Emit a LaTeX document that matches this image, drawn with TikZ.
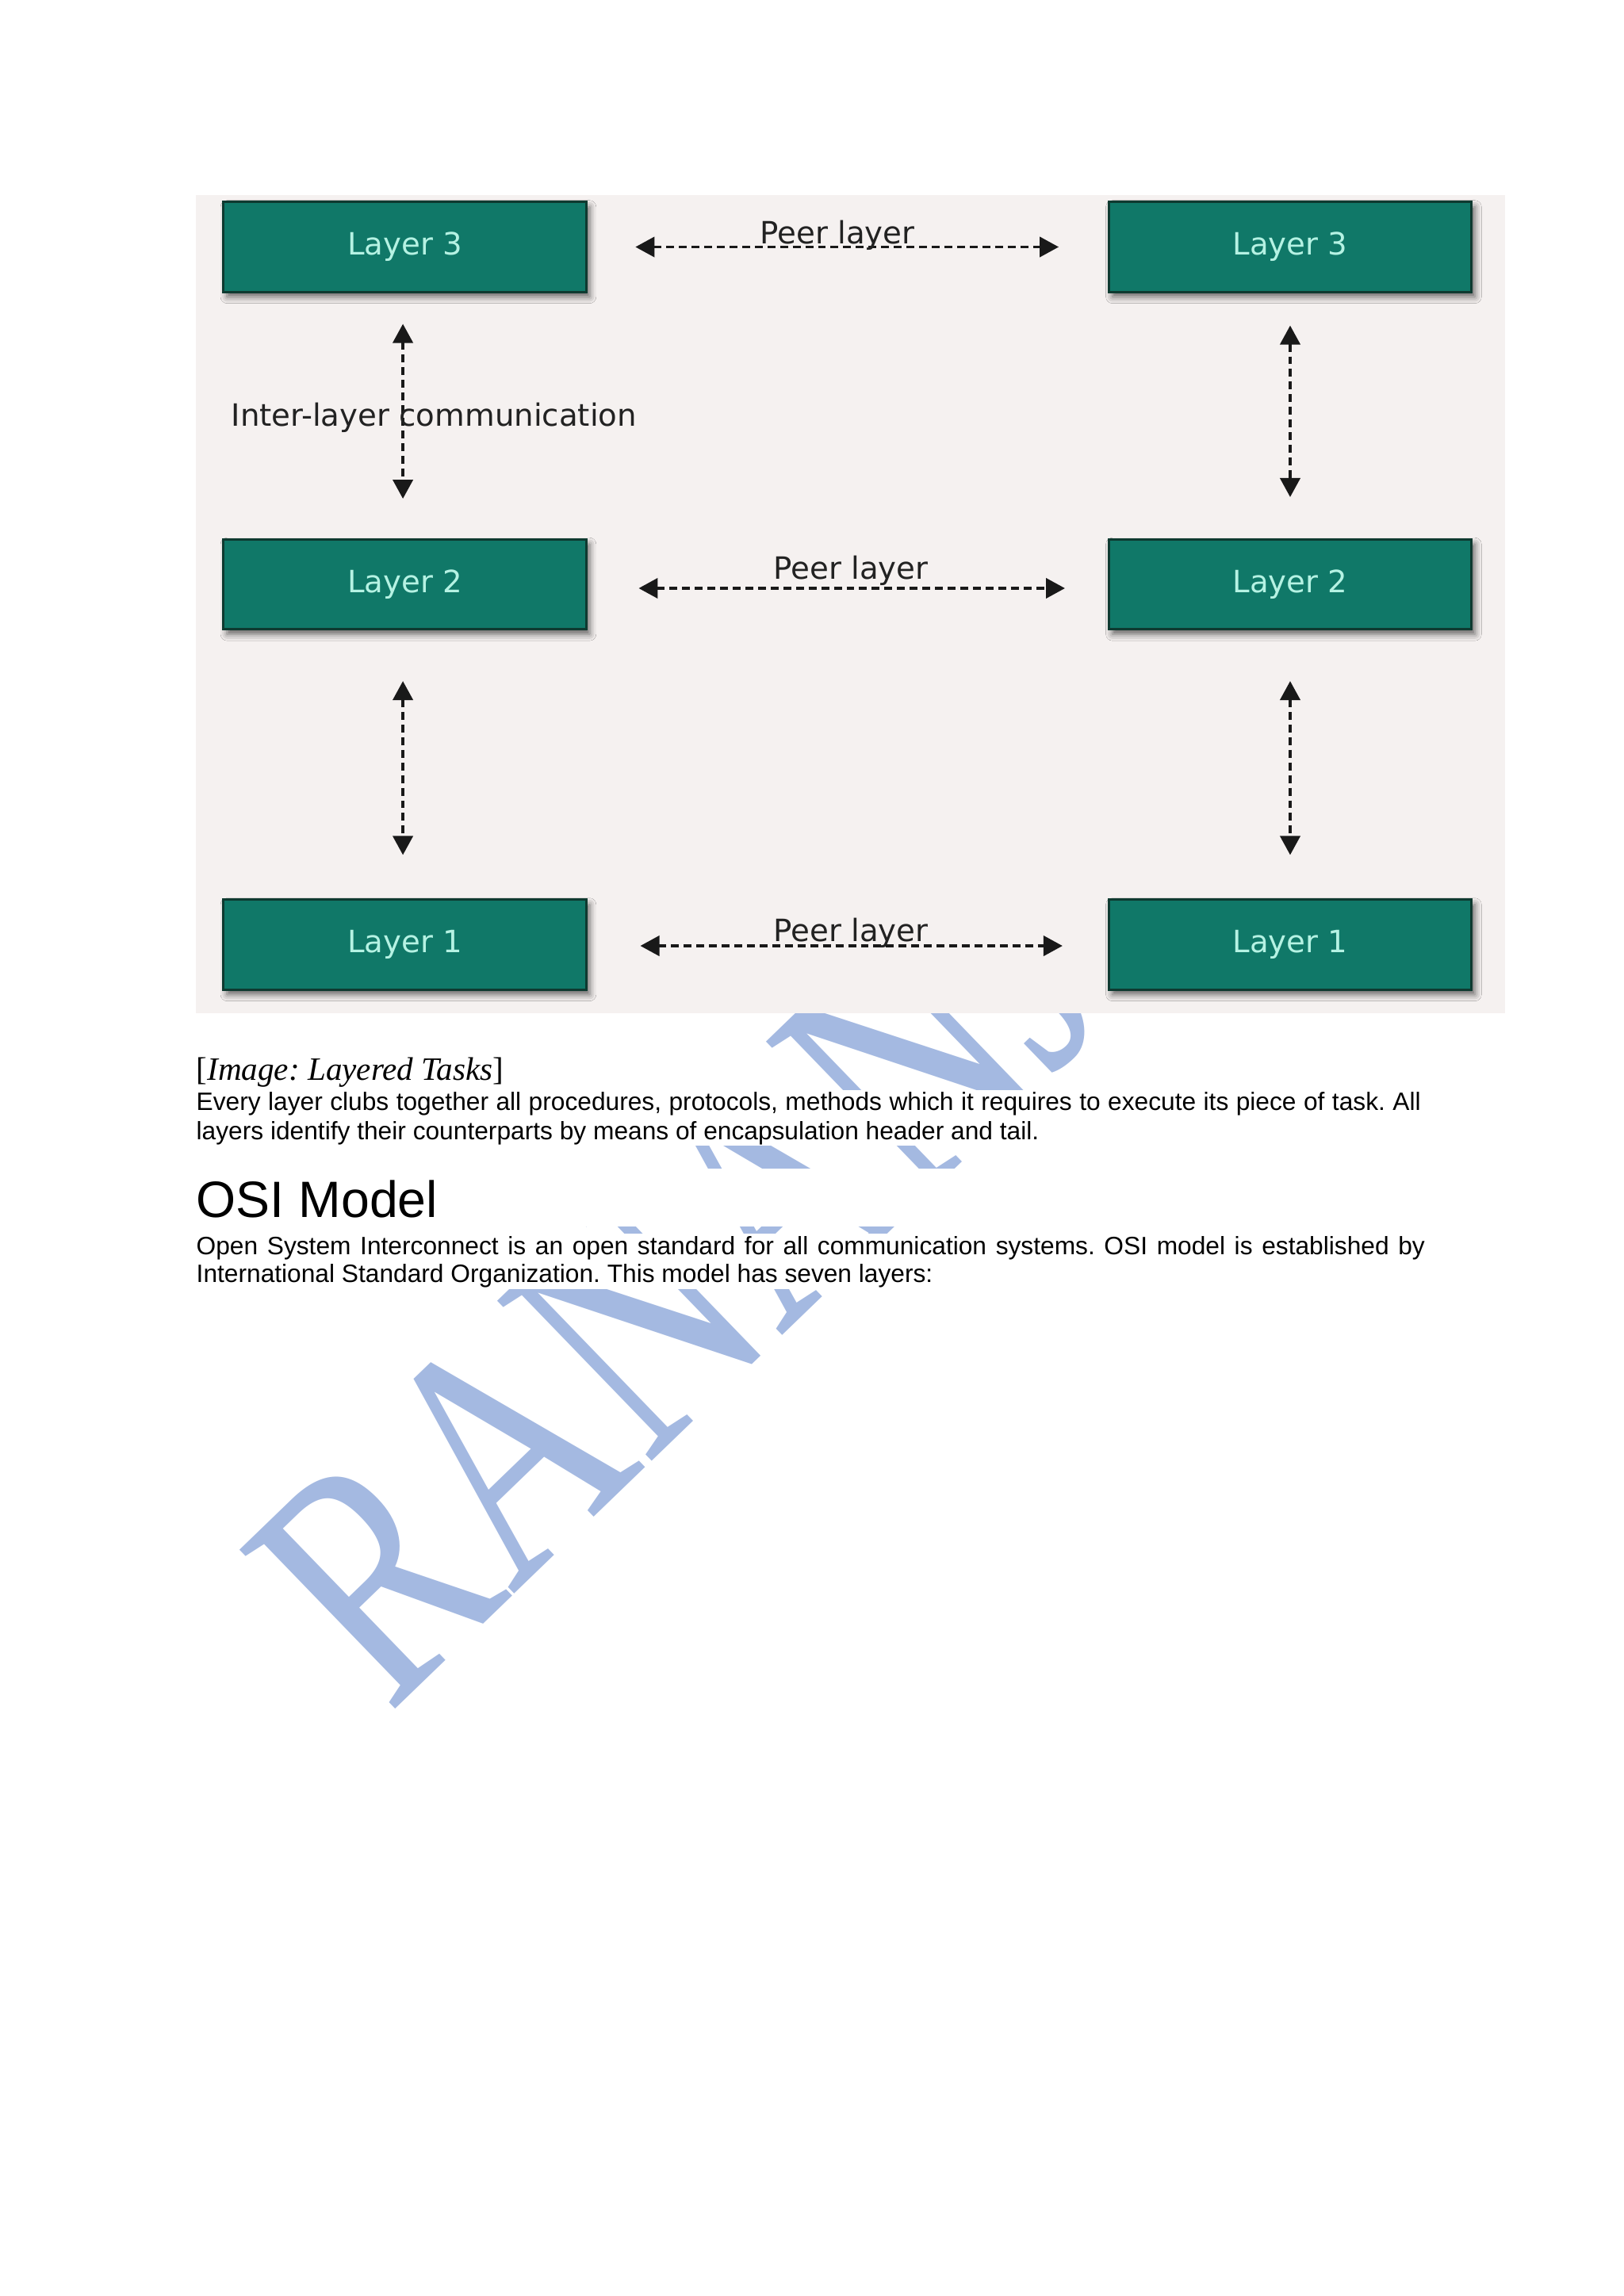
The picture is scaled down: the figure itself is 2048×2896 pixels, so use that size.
\documentclass[tikz,border=0pt]{standalone}
\usepackage{fontspec}
\setmainfont{Liberation Sans}
\newfontfamily\dvfont{DejaVu Sans}
\newfontfamily\tmsfont{Liberation Serif}
\usetikzlibrary{arrows.meta,shadows.blur}
\definecolor{diagbg}{HTML}{F5F1F0}
\definecolor{boxfill}{HTML}{107868}
\definecolor{boxline}{HTML}{0E3A30}
\definecolor{boxtext}{HTML}{B5F2E3}
\definecolor{wmblue}{HTML}{A4B9E1}
\definecolor{inktext}{HTML}{222222}
\frenchspacing
\tikzset{
  layerbox/.style={draw=boxline, line width=0.9pt, fill=boxfill,
    minimum width=133.4pt, minimum height=33.1pt, inner sep=0pt,
    text=boxtext, font=\dvfont\fontsize{11.3}{13}\selectfont,
    blur shadow={shadow xshift=1.3pt, shadow yshift=-1.8pt, shadow blur radius=2.4pt, shadow opacity=60}},
  dashconn/.style={draw=black!90, line width=1.15pt, dash pattern=on 2.9pt off 1.75pt,
    {Triangle[length=7pt,width=7.3pt]}-{Triangle[length=7pt,width=7.3pt]}},
  peerlabel/.style={anchor=base, inner sep=0pt, text=inktext, font=\dvfont\fontsize{11.3}{13}\selectfont},
  wmtext/.style={anchor=base west, inner sep=0pt, text=wmblue, rotate=44,
    font=\tmsfont\fontsize{125}{125}\selectfont},
  bodyline/.style={anchor=base west, inner sep=0pt, font=\fontsize{9.25}{11}\selectfont},
}
\begin{document}
\begin{tikzpicture}[x=0.0102539cm, y=-0.0102539cm]
\useasboundingbox (0,0) rectangle (2048,2896);
\fill[white] (0,0) rectangle (2048,2896);

% watermark
\node[wmtext] (wm) at (490,2164) {\scalebox{0.76}[1]{RANANJAY}};

% white strips behind text
\fill[white] (247,1375) rectangle (1800,1445);
\fill[white] (247,1474) rectangle (1800,1547);
\fill[white] (247,1556) rectangle (1805,1626);

% diagram background
\fill[diagbg] (247,246) rectangle (1898,1278);

% boxes
\node[layerbox] (L3) at (510.5,311.5) {Layer 3};
\node[layerbox] (R3) at (1627,311.5) {Layer 3};
\node[layerbox] (L2) at (510.5,737) {Layer 2};
\node[layerbox] (R2) at (1627,737) {Layer 2};
\node[layerbox] (L1) at (510.5,1191.5) {Layer 1};
\node[layerbox] (R1) at (1627,1191.5) {Layer 1};

% peer connectors
\draw[dashconn, shorten <=17.7pt, shorten >=18pt] (L3.east) -- (R3.west);
\draw[dashconn, shorten <=18.9pt, shorten >=15.7pt] ([yshift=-1.45pt]L2.east) -- ([yshift=-1.45pt]R2.west);
\draw[dashconn, shorten <=19.5pt, shorten >=16.6pt] ([yshift=-0.44pt]L1.east) -- ([yshift=-0.44pt]R1.west);

% vertical connectors
\draw[dashconn, shorten <=11.3pt, shorten >=14.5pt] ([xshift=-0.7pt]L3.south) -- ([xshift=-0.7pt]L2.north);
\draw[dashconn, shorten <=11.9pt, shorten >=15.1pt] (R3.south) -- (R2.north);
\draw[dashconn, shorten <=18.6pt, shorten >=16pt] ([xshift=-0.7pt]L2.south) -- ([xshift=-0.7pt]L1.north);
\draw[dashconn, shorten <=18.6pt, shorten >=16pt] (R2.south) -- (R1.north);

% labels
\node[peerlabel] (pl3) at (1056,307) {Peer layer};
\node[peerlabel] (pl2) at (1073,730) {Peer layer};
\node[peerlabel] (pl1) at (1073,1187) {Peer layer};
\node[peerlabel, anchor=base west] (inter) at (291,537) {Inter-layer communication};

% text below
\node[anchor=base west, inner sep=0pt, font=\tmsfont\fontsize{12}{14}\selectfont] (caption) at (247,1362) {[\textit{Image: Layered Tasks}]};
\node[bodyline] (p1a) at (247,1400) {\makebox[450.5pt][s]{Every layer clubs together all procedures, protocols, methods which it requires to execute its piece of task. All}};
\node[bodyline] (p1b) at (247,1437) {layers identify their counterparts by means of encapsulation header and tail.};
\node[anchor=base west, inner sep=0pt, font=\fontsize{18.8}{22}\selectfont] (osi) at (247,1535) {OSI Model};
\node[bodyline] (p2a) at (247,1582) {\makebox[452pt][s]{Open System Interconnect is an open standard for all communication systems. OSI model is established by}};
\node[bodyline] (p2b) at (247,1617) {International Standard Organization. This model has seven layers:};
\end{tikzpicture}
\end{document}
